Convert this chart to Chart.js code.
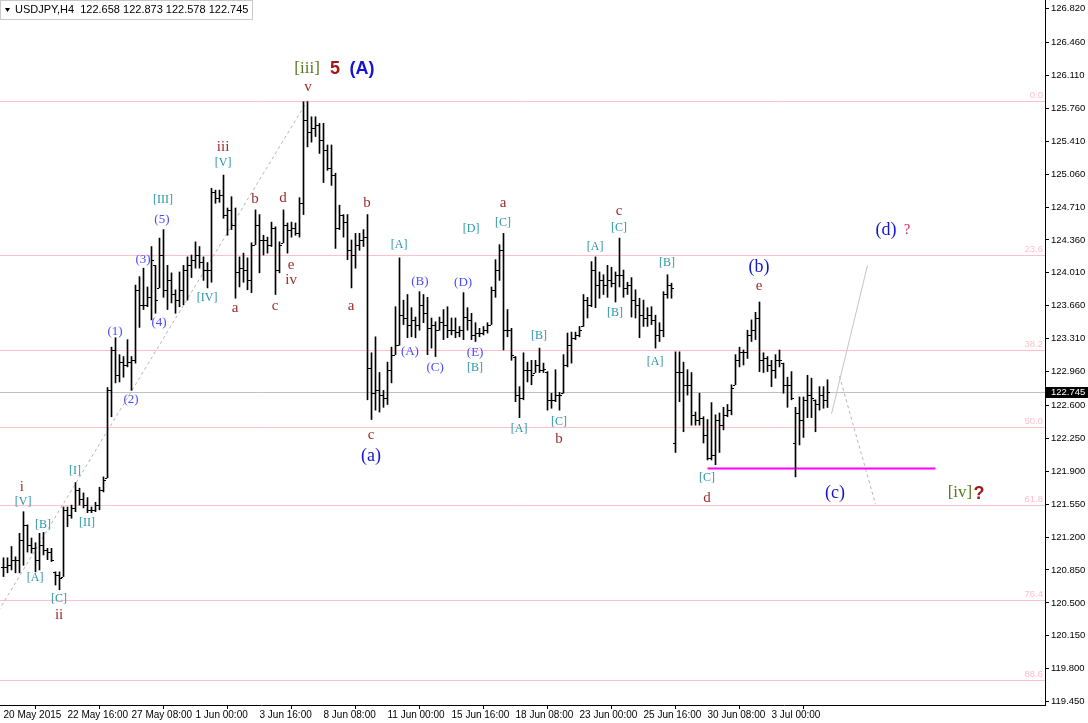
<!DOCTYPE html>
<html>
<head>
<meta charset="utf-8">
<script src="https://cdn.jsdelivr.net/npm/chart.js@4.4.1/dist/chart.umd.min.js"></script>
<style>
  html, body { margin: 0; padding: 0; background: #fff; }
  #wrap { width: 1088px; height: 723px; position: relative; }
</style>
</head>
<body>
<div id="wrap"><canvas id="chart" width="1088" height="723"></canvas></div>
<script>
// USDJPY H4, one bar every 4 hours, index 0 = 20 May 2015 00:00
const dateLabels = ['20 May 2015', '22 May 16:00', '27 May 08:00', '1 Jun 00:00', '3 Jun 16:00', '8 Jun 08:00',
  '11 Jun 00:00', '15 Jun 16:00', '18 Jun 08:00', '23 Jun 00:00', '25 Jun 16:00', '30 Jun 08:00', '3 Jul 00:00'];
const barsPerLabel = 16;

const priceTicks = [126.82, 126.46, 126.11, 125.76, 125.41, 125.06, 124.71, 124.36, 124.01, 123.66, 123.31,
  122.96, 122.60, 122.25, 121.90, 121.55, 121.20, 120.85, 120.50, 120.15, 119.80, 119.45];

const opens = [
  120.88,120.88,120.90,120.96,120.96,121.17,121.33,121.12,121.08,120.96,
  121.12,121.06,121.04,120.83,120.80,120.78,121.49,121.44,121.51,121.70,
  121.60,121.54,121.49,121.49,121.54,121.70,121.83,122.76,123.19,122.92,
  123.06,123.03,123.06,123.08,123.83,123.67,123.67,123.75,124.09,123.85,
  124.20,123.83,123.93,123.78,123.72,123.83,124.04,124.09,124.15,124.20,
  124.13,124.04,124.04,124.87,124.81,124.84,124.63,124.68,124.52,124.02,
  124.06,124.04,123.93,124.31,124.52,124.36,124.36,124.31,124.49,124.04,
  124.33,124.52,124.47,124.49,124.43,124.75,125.64,125.51,125.55,125.58,
  125.42,125.32,125.13,125.05,124.49,124.63,124.55,124.25,124.20,124.31,
  124.36,124.39,123.00,122.73,122.76,122.71,122.68,122.98,123.14,123.24,
  123.56,123.53,123.46,123.51,123.46,123.67,123.58,123.42,123.46,123.40,
  123.49,123.46,123.40,123.40,123.38,123.40,123.54,123.51,123.35,123.37,
  123.37,123.40,123.46,123.83,124.04,124.25,123.40,123.40,123.12,122.71,
  122.68,122.98,122.98,122.95,123.03,122.98,122.96,122.66,122.66,122.71,
  122.73,123.03,123.24,123.32,123.35,123.44,123.72,123.67,124.04,123.88,
  123.93,123.88,123.93,123.90,123.99,123.99,123.85,123.88,123.72,123.67,
  123.56,123.53,123.56,123.51,123.35,123.40,123.78,123.88,122.20,122.96,
  122.96,122.82,122.82,122.50,122.45,122.47,122.29,122.04,122.07,122.45,
  122.39,122.50,122.55,122.82,123.08,123.17,123.17,123.35,123.40,123.53,
  123.08,123.10,123.03,122.98,123.08,123.05,122.82,122.82,122.20,122.52,
  122.45,122.66,122.71,122.66,122.61,122.71,122.658
];
const highs = [
  120.98,120.98,121.10,120.99,121.24,121.47,121.33,121.19,121.14,121.24,
  121.25,121.08,121.08,120.83,120.83,121.52,121.52,121.54,121.78,121.72,
  121.67,121.62,121.52,121.57,121.73,121.84,122.79,123.22,123.32,123.14,
  123.12,123.30,123.12,123.88,123.97,124.06,123.86,124.29,124.09,124.38,
  124.47,124.09,124.01,123.83,124.02,124.09,124.18,124.20,124.34,124.29,
  124.18,124.12,124.91,124.89,124.89,125.05,124.70,124.82,124.70,124.18,
  124.22,124.17,124.33,124.68,124.63,124.41,124.39,124.55,124.50,124.34,
  124.68,124.54,124.55,124.54,124.81,125.83,125.83,125.67,125.67,125.60,
  125.60,125.37,125.37,125.07,124.73,124.63,124.63,124.36,124.43,124.43,
  124.47,124.63,123.16,123.33,122.95,122.76,123.06,123.22,123.65,124.17,
  123.72,123.78,123.64,123.54,123.81,123.78,123.75,123.53,123.49,123.54,
  123.62,123.65,123.53,123.53,123.44,123.80,123.64,123.58,123.48,123.42,
  123.44,123.48,123.86,124.15,124.31,124.43,123.62,123.42,123.12,122.80,
  123.16,123.06,123.08,123.08,123.21,123.05,122.96,122.73,122.98,122.74,
  123.14,123.37,123.38,123.38,123.44,123.78,123.75,124.13,124.18,124.02,
  123.99,124.09,124.07,124.02,124.38,124.04,123.91,123.96,123.83,123.74,
  123.72,123.64,123.65,123.56,123.48,123.81,123.99,123.90,123.17,123.17,
  123.06,122.98,122.95,122.53,122.73,122.48,122.45,122.63,122.50,122.52,
  122.58,122.61,122.82,123.14,123.22,123.19,123.40,123.51,123.59,123.70,
  123.16,123.12,123.08,123.14,123.19,123.05,122.90,122.96,122.58,122.69,
  122.69,122.92,122.89,122.66,122.80,122.80,122.873
];
const lows = [
  120.78,120.82,120.85,120.82,120.82,120.90,121.04,121.03,120.83,120.85,
  121.01,120.96,120.94,120.69,120.64,120.78,121.31,121.40,121.47,121.54,
  121.51,121.46,121.46,121.47,121.49,121.68,121.83,122.48,122.84,122.85,
  122.90,123.01,122.76,123.05,123.43,123.62,123.65,123.51,123.58,123.85,
  123.75,123.62,123.69,123.58,123.65,123.67,123.72,123.96,124.06,124.06,
  123.93,123.85,123.91,124.75,124.76,124.59,124.41,124.47,123.74,123.86,
  123.91,123.83,123.80,124.31,124.01,124.20,124.22,124.29,123.78,124.01,
  124.33,124.22,124.39,124.41,124.39,124.63,125.35,125.40,125.46,125.28,
  124.97,125.10,124.94,124.27,124.47,124.39,124.15,123.85,124.06,124.25,
  124.29,122.66,122.45,122.55,122.53,122.58,122.61,122.84,123.14,123.24,
  123.46,123.32,123.33,123.32,123.40,123.48,123.14,123.21,123.12,123.40,
  123.30,123.32,123.35,123.32,123.33,123.30,123.40,123.30,123.28,123.33,
  123.35,123.37,123.46,123.75,123.93,123.19,123.33,123.08,122.64,122.47,
  122.66,122.85,122.82,122.95,122.95,122.95,122.55,122.57,122.64,122.55,
  122.73,123.01,123.05,123.30,123.33,123.44,123.53,123.65,123.64,123.74,
  123.78,123.75,123.86,123.70,123.86,123.75,123.78,123.54,123.53,123.32,
  123.44,123.44,123.46,123.21,123.28,123.33,123.74,123.74,122.10,122.64,
  122.32,122.71,122.39,122.39,122.39,122.20,122.02,122.02,121.97,122.10,
  122.34,122.48,122.50,122.82,123.01,123.03,123.10,123.28,123.30,122.96,
  122.95,122.96,122.80,122.89,123.01,122.73,122.58,122.66,121.84,122.18,
  122.26,122.47,122.47,122.32,122.55,122.57,122.578
];
const closes = [
  120.88,120.90,120.96,120.96,121.17,121.33,121.12,121.08,120.96,121.12,
  121.06,121.04,120.96,120.80,120.77,121.49,121.44,121.51,121.70,121.60,
  121.54,121.49,121.49,121.54,121.70,121.81,122.76,123.19,122.92,123.06,
  123.03,123.06,123.08,123.83,123.67,123.67,123.75,124.15,123.72,124.20,
  123.83,123.93,123.78,123.72,123.83,124.04,124.09,124.15,124.20,124.13,
  124.04,124.04,124.87,124.81,124.84,124.63,124.68,124.52,124.02,124.06,
  124.04,123.93,124.31,124.52,124.36,124.36,124.31,124.49,124.04,124.31,
  124.52,124.47,124.49,124.43,124.75,125.64,125.51,125.55,125.58,125.42,
  125.32,125.13,125.05,124.49,124.63,124.55,124.25,124.20,124.31,124.36,
  124.39,123.00,122.73,122.76,122.71,122.68,122.98,123.14,123.24,123.56,
  123.53,123.46,123.51,123.46,123.67,123.58,123.42,123.46,123.40,123.49,
  123.46,123.40,123.40,123.38,123.40,123.54,123.51,123.35,123.37,123.37,
  123.40,123.46,123.83,124.04,124.25,123.40,123.40,123.14,122.71,122.68,
  122.98,122.98,122.92,123.03,122.98,122.99,122.66,122.66,122.71,122.71,
  123.03,123.24,123.32,123.35,123.40,123.72,123.67,124.04,123.88,123.93,
  123.88,123.93,123.90,123.99,123.99,123.85,123.88,123.72,123.67,123.56,
  123.53,123.56,123.51,123.35,123.40,123.78,123.88,123.85,122.96,122.96,
  122.82,122.82,122.50,122.45,122.47,122.29,122.04,122.07,122.45,122.39,
  122.50,122.55,122.79,123.08,123.17,123.17,123.35,123.40,123.53,123.08,
  123.10,123.03,122.98,123.08,123.08,122.82,122.82,122.68,122.52,122.45,
  122.66,122.71,122.68,122.61,122.71,122.66,122.745
];

const symbolInfo = 'USDJPY,H4  122.658 122.873 122.578 122.745';
const lastPrice = 122.745;

// fibonacci retracement: anchors (bar index, price)
const fibLowBar = -23, fibLow = 118.888;
const fibHighBar = 76, fibHigh = 125.843;
const fibLevels = [0, 23.6, 38.2, 50, 61.8, 76.4, 88.6];

// drawn objects
const supportLine = [{ x: 176, y: 121.93 }, { x: 233, y: 121.93 }];
const projectionUp = [{ x: 207, y: 122.51 }, { x: 216, y: 124.09 }];
const projectionDown = [{ x: 209, y: 122.91 }, { x: 218, y: 121.55 }];

// wave labels: text, bar index, price, style
const waveLabels = [
  ['i', 4.6, 121.73, 'brown'], ['[V]', 4.9, 121.57, 'teal'], ['[B]', 9.9, 121.33, 'teal'],
  ['[A]', 7.9, 120.77, 'teal'], ['[C]', 13.9, 120.54, 'teal'], ['ii', 13.9, 120.37, 'brown'],
  ['[I]', 17.9, 121.90, 'teal'], ['[II]', 20.9, 121.35, 'teal'],
  ['(1)', 27.9, 123.39, 'violet'], ['(2)', 31.9, 122.66, 'violet'], ['(3)', 34.9, 124.15, 'violet'],
  ['(4)', 38.9, 123.48, 'violet'], ['(5)', 39.6, 124.58, 'violet'], ['[III]', 39.9, 124.79, 'teal'],
  ['iii', 54.9, 125.35, 'brown'], ['[V]', 54.9, 125.18, 'teal'], ['[IV]', 50.9, 123.74, 'teal'],
  ['a', 57.9, 123.64, 'brown'], ['b', 62.9, 124.79, 'brown'], ['c', 67.9, 123.66, 'brown'],
  ['d', 69.9, 124.81, 'brown'], ['e', 71.9, 124.09, 'brown'], ['iv', 71.9, 123.93, 'brown'],
  ['v', 76.1, 125.99, 'brown'], ['[iii]', 75.9, 126.18, 'olive'], ['5', 82.9, 126.18, 'redBold'],
  ['(A)', 89.6, 126.18, 'blueBold'],
  ['b', 90.9, 124.75, 'brown'], ['a', 86.9, 123.66, 'brown'], ['c', 91.9, 122.28, 'brown'],
  ['(a)', 91.9, 122.06, 'blue'],
  ['[A]', 98.9, 124.31, 'teal'], ['(B)', 104.1, 123.92, 'violet'], ['(A)', 101.6, 123.17, 'violet'],
  ['(C)', 107.9, 123.00, 'violet'], ['(D)', 114.9, 123.91, 'violet'], ['(E)', 117.9, 123.16, 'violet'],
  ['[B]', 117.9, 123.00, 'teal'], ['[D]', 116.9, 124.48, 'teal'],
  ['a', 124.9, 124.75, 'brown'], ['[C]', 124.9, 124.54, 'teal'], ['[B]', 133.9, 123.34, 'teal'],
  ['[A]', 128.9, 122.35, 'teal'], ['[C]', 138.9, 122.43, 'teal'], ['b', 138.9, 122.24, 'brown'],
  ['c', 153.9, 124.67, 'brown'], ['[C]', 153.9, 124.49, 'teal'], ['[A]', 147.9, 124.29, 'teal'],
  ['[B]', 152.9, 123.58, 'teal'], ['[B]', 165.9, 124.12, 'teal'], ['[A]', 162.9, 123.06, 'teal'],
  ['[C]', 175.9, 121.83, 'teal'], ['d', 175.9, 121.62, 'brown'],
  ['(b)', 188.9, 124.07, 'blue'], ['e', 188.9, 123.87, 'brown'], ['(c)', 207.9, 121.67, 'blue'],
  ['(d)', 220.6, 124.46, 'blue'], ['?', 225.9, 124.46, 'red'],
  ['[iv]', 239.1, 121.67, 'olive'], ['?', 243.9, 121.66, 'redBold']
];

const labelStyles = {
  brown: { font: '15px "Liberation Serif"', color: '#9e2a2a' },
  teal: { font: '12px "Liberation Serif"', color: '#2b95a8' },
  violet: { font: '13px "Liberation Serif"', color: '#4b4bff' },
  blue: { font: '18px "Liberation Serif"', color: '#1414d2' },
  olive: { font: '17px "Liberation Serif"', color: '#557a1e' },
  red: { font: '14px "Liberation Serif"', color: '#dc143c' },
  redBold: { font: 'bold 18px "Liberation Sans"', color: '#a01818' },
  blueBold: { font: 'bold 18px "Liberation Sans"', color: '#1414d2' }
};

// draws fib levels, price line, OHLC ticks, labels and the info box
const overlay = {
  id: 'overlay',
  beforeDatasetsDraw(chart) {
    const { ctx, chartArea: a, scales: { y } } = chart;
    ctx.save();
    ctx.beginPath();
    ctx.rect(a.left, a.top, a.right - a.left, a.bottom - a.top);
    ctx.clip();
    ctx.lineWidth = 1;
    ctx.font = '9.5px "Liberation Sans"';
    ctx.textAlign = 'right';
    ctx.textBaseline = 'bottom';
    fibLevels.forEach((lv) => {
      const py = Math.round(y.getPixelForValue(fibHigh - (fibHigh - fibLow) * lv / 100)) + 0.5;
      ctx.strokeStyle = '#ffc0cb';
      ctx.beginPath();
      ctx.moveTo(a.left, py);
      ctx.lineTo(a.right, py);
      ctx.stroke();
      ctx.fillStyle = '#ffc0cb';
      ctx.fillText(lv.toFixed(1), a.right - 2, py - 1);
    });
    const lp = Math.round(y.getPixelForValue(lastPrice)) + 0.5;
    ctx.strokeStyle = '#c0c0c0';
    ctx.beginPath();
    ctx.moveTo(a.left, lp);
    ctx.lineTo(a.right, lp);
    ctx.stroke();
    ctx.restore();
  },
  afterDatasetsDraw(chart) {
    const { ctx, chartArea: a, scales: { x, y } } = chart;
    ctx.save();
    ctx.fillStyle = '#000';
    opens.forEach((o, i) => {
      const px = Math.floor(x.getPixelForValue(i));
      ctx.fillRect(px - 2, Math.round(y.getPixelForValue(o)), 2, 1);
      ctx.fillRect(px + 1, Math.round(y.getPixelForValue(closes[i])), 2, 1);
    });

    ctx.textAlign = 'center';
    ctx.textBaseline = 'middle';
    waveLabels.forEach(([txt, bx, py, st]) => {
      const s = labelStyles[st];
      ctx.font = s.font;
      ctx.fillStyle = s.color;
      ctx.fillText(txt, x.getPixelForValue(bx), y.getPixelForValue(py));
    });

    // current price tag on the axis
    const lp = Math.round(y.getPixelForValue(lastPrice));
    ctx.fillStyle = '#000';
    ctx.fillRect(a.right + 1, lp - 5, 1088 - a.right - 1, 11);
    ctx.fillStyle = '#fff';
    ctx.font = '9.5px "Liberation Sans"';
    ctx.textAlign = 'left';
    ctx.fillText(lastPrice.toFixed(3), a.right + 6, lp + 0.5);

    // symbol box
    ctx.strokeStyle = '#c8c8c8';
    ctx.strokeRect(0.5, 0.5, 252, 19);
    ctx.fillStyle = '#000';
    ctx.beginPath();
    ctx.moveTo(5, 8); ctx.lineTo(10, 8); ctx.lineTo(7.5, 12); ctx.closePath();
    ctx.fill();
    ctx.font = '11px "Liberation Sans"';
    ctx.textAlign = 'left';
    ctx.fillText(symbolInfo, 15, 10);
    ctx.restore();
  }
};

const ctx = document.getElementById('chart').getContext('2d');

const chart = new Chart(ctx, {
  type: 'bar',
  data: {
    datasets: [
      {
        type: 'bar',
        data: highs.map((h, i) => ({ x: i, y: [lows[i], h] })),
        backgroundColor: '#000',
        borderWidth: 0,
        barThickness: 1,
        grouped: false
      },
      {
        type: 'line',
        data: [{ x: fibLowBar, y: fibLow }, { x: fibHighBar, y: fibHigh }],
        borderColor: '#b4b4b4',
        borderWidth: 1,
        borderDash: [3, 3],
        pointRadius: 0
      },
      {
        type: 'line',
        data: supportLine,
        borderColor: '#ff00ff',
        borderWidth: 2,
        pointRadius: 0
      },
      {
        type: 'line',
        data: projectionUp,
        borderColor: '#c4c4c4',
        borderWidth: 1,
        pointRadius: 0
      },
      {
        type: 'line',
        data: projectionDown,
        borderColor: '#b4b4b4',
        borderWidth: 1,
        borderDash: [3, 3],
        pointRadius: 0
      }
    ]
  },
  options: {
    responsive: false,
    animation: false,
    layout: { padding: 0 },
    plugins: { legend: { display: false }, tooltip: { enabled: false } },
    scales: {
      x: {
        type: 'linear',
        bounds: 'data',
        min: -0.875,
        max: 260.375,
        offset: false,
        grid: { display: true, drawOnChartArea: false, tickLength: 4, color: '#000' },
        border: { display: true, color: '#000' },
        ticks: {
          align: 'start',
          autoSkip: false,
          maxRotation: 0,
          padding: 0,
          color: '#000',
          font: { family: 'Liberation Sans', size: 10 },
          callback: (v, i) => dateLabels[i]
        },
        afterBuildTicks: (s) => { s.ticks = dateLabels.map((d, k) => ({ value: k * barsPerLabel })); },
        afterFit: (s) => { s.height = 18; s.paddingLeft = 0; s.paddingRight = 0; }
      },
      y: {
        position: 'right',
        bounds: 'data',
        min: 119.414,
        max: 126.912,
        grid: { display: true, drawOnChartArea: false, tickLength: 4, color: '#000' },
        border: { display: true, color: '#000' },
        ticks: {
          padding: 2,
          color: '#000',
          font: { family: 'Liberation Sans', size: 9.5 },
          callback: (v) => v.toFixed(3)
        },
        afterBuildTicks: (s) => { s.ticks = priceTicks.map((v) => ({ value: v })); },
        afterFit: (s) => { s.width = 43; s.paddingTop = 0; s.paddingBottom = 0; }
      }
    }
  },
  plugins: [overlay]
});
</script>
</body>
</html>
